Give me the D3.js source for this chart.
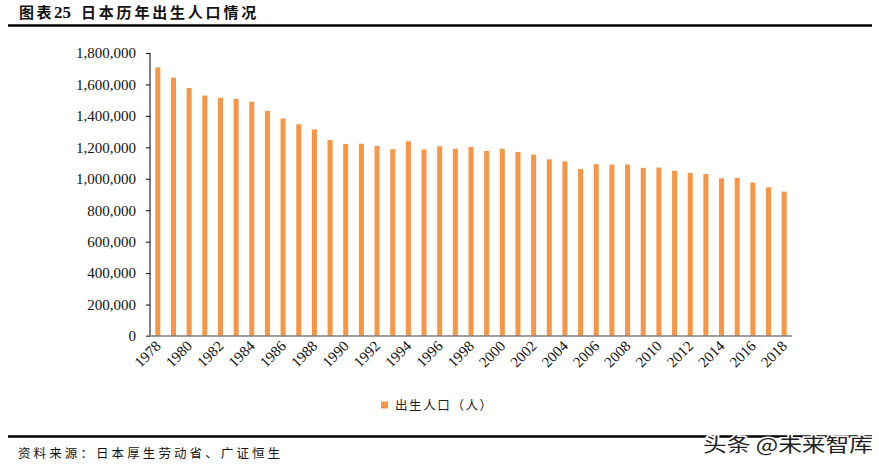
<!DOCTYPE html>
<html><head><meta charset="utf-8">
<script src="https://cdn.jsdelivr.net/npm/d3@7"></script>
<style>body{margin:0;background:#fff}svg{display:block}</style>
</head><body><svg id="c" width="879" height="470"></svg>
<script>
const years = d3.range(1978, 2019).map(String);
const births = [1708643,1642580,1576889,1529455,1515392,1508687,1489780,1431577,1382946,1346658,1314006,1246802,1221585,1223245,1208989,1188282,1238328,1187064,1206555,1191665,1203147,1177669,1190547,1170662,1153855,1123610,1110721,1062530,1092674,1089818,1091156,1070035,1071304,1050806,1037231,1029816,1003539,1005677,976978,946065,918400];
const yTicks = [0,200000,400000,600000,800000,1000000,1200000,1400000,1600000,1800000];
const xTickLabels = years.filter((y,i)=>i%2===0);
const titleParts = ["图表", "25", "日本历年出生人口情况"];
const seriesName = "出生人口（人）";
const source = "资料来源：日本厚生劳动省、广证恒生";
const watermark = "头条 @未来智库";

const svg = d3.select("#c");
const serif = "'Liberation Serif','Times New Roman',serif";
const cjk = "'Noto Sans CJK SC','Noto Sans',sans-serif";
const data = years.map((y,i)=>({year:y, v:births[i]}));

// title
const t = svg.append("text").attr("x",19).attr("y",18).attr("font-weight","bold").attr("fill","#111");
t.append("tspan").attr("font-family",cjk).attr("font-size",15).attr("letter-spacing",2.5).text(titleParts[0]);
t.append("tspan").attr("font-family",serif).attr("font-size",17).attr("dx",0).text(titleParts[1]);
t.append("tspan").attr("font-family",cjk).attr("font-size",15).attr("letter-spacing",2.8).attr("dx",10).text(titleParts[2]);
svg.append("line").attr("x1",8).attr("x2",872).attr("y1",25.5).attr("y2",25.5).attr("stroke","#000").attr("stroke-width",2.5);

const x = d3.scaleBand().domain(years).range([150,792]).paddingInner(0.68).paddingOuter(0.34);
const y = d3.scaleLinear().domain([0,1800000]).range([336,53]);

svg.append("g").selectAll("rect").data(data).join("rect")
  .attr("x",d=>x(d.year)).attr("width",x.bandwidth())
  .attr("y",d=>y(d.v)).attr("height",d=>y(0)-y(d.v)).attr("fill","#F79646");

const yAxis = svg.append("g").attr("transform","translate(150,0)")
  .call(d3.axisLeft(y).tickValues(yTicks).tickFormat(d3.format(",")).tickSize(4).tickPadding(10));
yAxis.select(".domain").attr("stroke","#000").attr("d","M0,53V336");
yAxis.selectAll("line").attr("stroke","#000");
yAxis.selectAll("text").attr("font-family",serif).attr("font-size",15).attr("fill","#111");

const xAxis = svg.append("g").attr("transform","translate(0,336)")
  .call(d3.axisBottom(x).tickValues(xTickLabels).tickSize(0).tickPadding(0));
xAxis.select(".domain").attr("stroke","#7f7f7f").attr("stroke-width",1.5).attr("d","M146,0H792");
xAxis.selectAll("text").attr("font-family",serif).attr("font-size",15).attr("fill","#111")
  .attr("text-anchor","end").attr("dy",null).attr("y",0)
  .attr("transform","translate(4,11) rotate(-45)");

// legend
const lg = svg.append("g");
lg.append("rect").attr("x",381).attr("y",401.5).attr("width",7).attr("height",7).attr("fill","#F79646");
lg.append("text").attr("x",395).attr("y",410).attr("font-family",cjk).attr("font-size",12.5)
  .attr("letter-spacing",1.6).attr("fill","#222").text(seriesName);

// footer
svg.append("line").attr("x1",8).attr("x2",872).attr("y1",436.5).attr("y2",436.5).attr("stroke","#000").attr("stroke-width",2.5);
svg.append("text").attr("x",18).attr("y",458).attr("font-family",cjk).attr("font-size",12.5)
  .attr("letter-spacing",3.1).attr("fill","#111").text(source);
svg.append("text").attr("x",703).attr("y",452).attr("font-family",cjk).attr("font-size",19)
  .attr("textLength",170).attr("lengthAdjust","spacingAndGlyphs")
  .attr("fill","#222").attr("stroke","#fff").attr("stroke-width",3).attr("paint-order","stroke")
  .text(watermark);
</script></body></html>
